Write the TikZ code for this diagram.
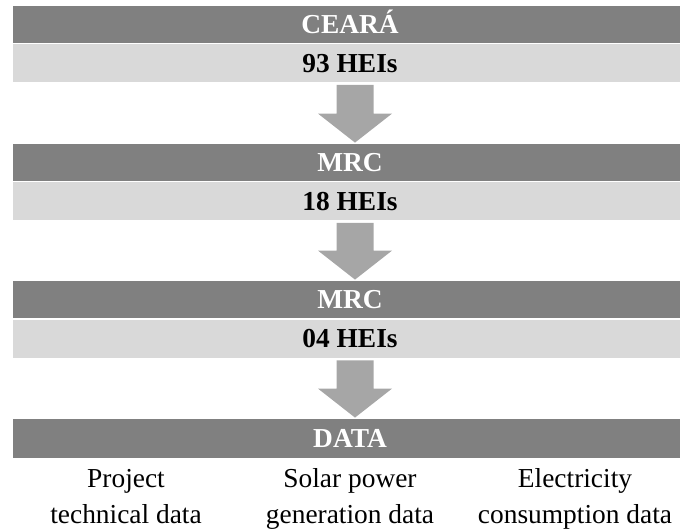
\documentclass[tikz,border=0pt]{standalone}
\usepackage{fontspec}
\setmainfont{Liberation Serif}
\usetikzlibrary{calc}
\definecolor{bardark}{HTML}{808080}
\definecolor{barlight}{HTML}{D9D9D9}
\definecolor{arrowgray}{HTML}{A6A6A6}
% block arrow from a top point (#1) down to a tip (#2)
\newcommand\blockarrow[2]{%
  \fill[arrowgray] ($(#1)+(-18.5,0)$) -- ($(#1)+(18.5,0)$)
    -- ($(#2)+(18.5,-29)$) -- ($(#2)+(37,-29)$) -- (#2)
    -- ($(#2)+(-37,-29)$) -- ($(#2)+(-18.5,-29)$) -- cycle;}
\begin{document}
\begin{tikzpicture}[x=1pt,y=-1pt,
  bar/.style={draw=white, line width=0.8pt, minimum width=676pt,
    inner sep=0pt, text height=18pt, text depth=0pt,
    font=\fontsize{27.4}{30}\selectfont\bfseries},
  darkbar/.style={bar, fill=bardark, text=white, minimum height=38pt},
  lightbar/.style={bar, fill=barlight, text=black, minimum height=39pt},
  item/.style={align=center, anchor=base, inner sep=0pt,
    font=\fontsize{27.4}{36}\selectfont}]
\useasboundingbox (0,0) rectangle (680,531);
\clip (0,0) rectangle (680,531);

% stage 1
\node[darkbar]  (d1) at (350,24)    {CEARÁ};
\node[lightbar] (l1) at (350,63)    {93 HEIs};
% stage 2
\node[darkbar]  (d2) at (350,162)   {MRC};
\node[lightbar] (l2) at (350,201)   {18 HEIs};
% stage 3
\node[darkbar]  (d3) at (350,299)   {MRC};
\node[lightbar] (l3) at (350,338.5) {04 HEIs};
% data
\node[darkbar, minimum height=40pt] (d4) at (350,438) {DATA};

% data items (anchored at the baseline of the second line)
\node[item] (i1) at (126,523) {Project\\technical data};
\node[item] (i2) at (350,523) {Solar power\\generation data};
\node[item] (i3) at (575,523) {Electricity\\consumption data};

% arrows between stages
\path (l1.south) ++(5,2) coordinate (a1s);
\path (d2.north) ++(5,0) coordinate (a1e);
\path (l2.south) ++(5,2) coordinate (a2s);
\path (d3.north) ++(5,0) coordinate (a2e);
\path (l3.south) ++(5,2) coordinate (a3s);
\path (d4.north) ++(5,0) coordinate (a3e);
\blockarrow{a1s}{a1e}
\blockarrow{a2s}{a2e}
\blockarrow{a3s}{a3e}
\end{tikzpicture}
\end{document}
